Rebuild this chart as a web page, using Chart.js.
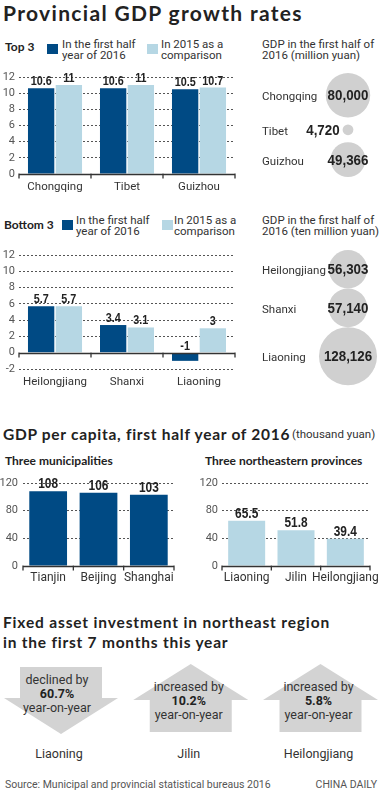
<!DOCTYPE html>
<html>
<head>
<meta charset="utf-8">
<script src="https://cdn.jsdelivr.net/npm/chart.js@4.4.1/dist/chart.umd.min.js"></script>
<style>
  body { margin: 0; background: #fff; }
  #page { position: relative; width: 388px; height: 795px; overflow: hidden; font-family: Roboto, sans-serif; color: #333; }
  #page > div, #page > canvas, #page > svg { position: absolute; }
  .t { white-space: nowrap; line-height: 16px; }
  .head { font-family: Lato, sans-serif; font-weight: 700; color: #222; white-space: nowrap; }
  .sub { font-family: Lato, sans-serif; font-weight: 700; font-size: 12px; color: #222; }
  .leg { font-size: 11.5px; line-height: 10.5px; color: #333; }
  .box { width: 11px; height: 10px; }
</style>
</head>
<body>
<div id="page">
  <div class="head fit" data-w="300" style="left:3px;top:1px;font-size:21px;line-height:24px">Provincial GDP growth rates</div>

  <div class="t sub" style="left:5px;top:39px">Top 3</div>
  <div class="box" style="left:47px;top:44px;background:#004a84"></div>
  <div class="leg" style="left:62px;top:39px">In the first half<br>year of 2016</div>
  <div class="box" style="left:147px;top:44px;background:#b6d7e4"></div>
  <div class="leg" style="left:161px;top:39px">In 2015 as a<br>comparison</div>
  <div class="leg" style="left:262px;top:39px">GDP in the first half of<br>2016 (million yuan)</div>
  <canvas id="topBars" width="245" height="140" style="left:0;top:60px"></canvas>
  <canvas id="topBubbles" width="138" height="140" style="left:250px;top:60px"></canvas>

  <div class="t sub" style="left:4px;top:217px">Bottom 3</div>
  <div class="box" style="left:62px;top:220px;background:#004a84"></div>
  <div class="leg" style="left:76px;top:215px">In the first half<br>year of 2016</div>
  <div class="box" style="left:162px;top:220px;background:#b6d7e4"></div>
  <div class="leg" style="left:174px;top:215px">In 2015 as a<br>comparison</div>
  <div class="leg" style="left:262px;top:215px">GDP in the first half of<br>2016 (ten million yuan)</div>
  <canvas id="bottomBars" width="245" height="155" style="left:0;top:235px"></canvas>
  <canvas id="bottomBubbles" width="138" height="160" style="left:250px;top:240px"></canvas>

  <div class="head fit" data-w="287" style="left:3px;top:424px;font-size:15.5px;line-height:20px">GDP per capita, first half year of 2016</div>
  <div class="t" style="left:292px;top:426px;font-size:11.5px">(thousand yuan)</div>
  <div class="t sub" style="left:5px;top:453px">Three municipalities</div>
  <div class="t sub" style="left:205px;top:453px">Three northeastern provinces</div>
  <canvas id="cityBars" width="180" height="125" style="left:0;top:465px"></canvas>
  <canvas id="northBars" width="193" height="125" style="left:195px;top:465px"></canvas>

  <div class="head fit" data-w="327" style="left:3px;top:612px;font-size:15.5px;line-height:20px">Fixed asset investment in northeast region</div>
  <div class="head fit" data-w="225" style="left:3px;top:632px;font-size:15.5px;line-height:20px">in the first 7 months this year</div>
  <svg id="arrows" width="388" height="100" style="left:0;top:660px"></svg>
  <div id="arrowText"></div>

  <div class="t" style="left:5px;top:777px;font-size:10.5px;color:#555">Source: Municipal and provincial statistical bureaus 2016</div>
  <div class="t" style="right:11px;top:777px;font-size:10.5px;color:#555">CHINA DAILY</div>
</div>
<script>
// growth rates (%)
const topProvinces = ["Chongqing", "Tibet", "Guizhou"];
const topGrowth2016 = [10.6, 10.6, 10.5];
const topGrowth2015 = [11, 11, 10.7];
const topGdp = [80000, 4720, 49366];          // million yuan

const bottomProvinces = ["Heilongjiang", "Shanxi", "Liaoning"];
const bottomGrowth2016 = [5.7, 3.4, -1];
const bottomGrowth2015 = [5.7, 3.1, 3];
const bottomGdp = [56303, 57140, 128126];     // ten million yuan

const topTicks = [0, 2, 4, 6, 8, 10, 12];
const bottomTicks = [-2, 0, 2, 4, 6, 8, 10, 12];

// GDP per capita (thousand yuan)
const municipalities = ["Tianjin", "Beijing", "Shanghai"];
const municipalValues = [108, 106, 103];
const northeast = ["Liaoning", "Jilin", "Heilongjiang"];
const northeastValues = [65.5, 51.8, 39.4];
const perCapitaTicks = [0, 40, 80, 120];

// fixed asset investment, first 7 months (% year-on-year)
const investProvinces = ["Liaoning", "Jilin", "Heilongjiang"];
const investChange = [-60.7, 10.2, 5.8];

const DARK = "#004a84";
const LIGHT = "#b6d7e4";
const GREY = "#d0d0d0";
const NUM_FONT = "'Liberation Sans', Arial, sans-serif";

// stretch the headings to the width they have in print
document.querySelectorAll(".fit").forEach(el => {
  const w = el.getBoundingClientRect().width;
  const n = el.textContent.length;
  el.style.letterSpacing = ((Number(el.dataset.w) - w) / n).toFixed(2) + "px";
});

Chart.defaults.font.family = "Roboto, sans-serif";
Chart.defaults.color = "#333";

// condensed bold number, drawn squeezed horizontally
function narrowText(ctx, txt, x, y, size, squeeze, align) {
  ctx.save();
  ctx.font = "bold " + size + "px " + NUM_FONT;
  ctx.fillStyle = "#222";
  ctx.textAlign = align || "center";
  ctx.translate(x, y);
  ctx.scale(squeeze, 1);
  ctx.fillText(txt, 0, 0);
  ctx.restore();
}

// solid zero line with small ticks between the categories
const baseline = {
  id: "baseline",
  afterDatasetsDraw(chart) {
    const { ctx, chartArea: a, scales } = chart;
    const y = Math.round(scales.y.getPixelForValue(0)) + 0.5;
    const n = chart.data.labels.length;
    ctx.save();
    ctx.strokeStyle = "#333";
    ctx.lineWidth = 1.3;
    ctx.beginPath();
    ctx.moveTo(a.left, y);
    ctx.lineTo(a.right, y);
    for (let i = 0; i <= n; i++) {
      const x = a.left + (a.right - a.left) * i / n;
      ctx.moveTo(x, y - 1);
      ctx.lineTo(x, y + 4);
    }
    ctx.stroke();
    ctx.restore();
  }
};

const valueLabels = {
  id: "valueLabels",
  afterDatasetsDraw(chart, args, opts) {
    const { ctx } = chart;
    ctx.textBaseline = "alphabetic";
    chart.data.datasets.forEach((ds, di) => {
      chart.getDatasetMeta(di).data.forEach((bar, i) => {
        narrowText(ctx, String(ds.data[i]), bar.x, Math.min(bar.y, bar.base) - 3, opts.size, opts.squeeze);
      });
    });
  }
};

function barChart(id, labels, datasets, cfg) {
  new Chart(document.getElementById(id), {
    type: "bar",
    data: { labels, datasets },
    options: {
      responsive: false,
      animation: false,
      events: [],
      layout: { padding: { top: cfg.top, right: cfg.right, left: 0, bottom: 0 } },
      datasets: { bar: { categoryPercentage: cfg.cat, barPercentage: cfg.bar } },
      plugins: { legend: { display: false }, tooltip: { enabled: false },
                 valueLabels: { size: cfg.labelSize, squeeze: cfg.squeeze } },
      scales: {
        x: {
          grid: { display: false, drawTicks: false },
          border: { display: false },
          ticks: { padding: cfg.xPad, color: "#333", font: { size: cfg.catSize }, maxRotation: 0, minRotation: 0, autoSkip: false },
          afterFit: s => { s.height = cfg.xHeight; }
        },
        y: {
          min: cfg.min,
          max: cfg.max,
          afterBuildTicks: s => { s.ticks = cfg.ticks.map(v => ({ value: v })); },
          grid: { drawTicks: false, color: c => c.tick && c.tick.value === 0 ? "rgba(0,0,0,0)" : "#555", lineWidth: 1 },
          border: { display: false, dash: [2, 2] },
          ticks: { padding: cfg.yPad, color: "#555", font: { size: 11 }, autoSkip: false },
          afterFit: s => { s.width = cfg.yWidth; }
        }
      }
    },
    plugins: [baseline, valueLabels]
  });
}

barChart("topBars", topProvinces, [
  { label: "In the first half year of 2016", data: topGrowth2016, backgroundColor: DARK },
  { label: "In 2015 as a comparison", data: topGrowth2015, backgroundColor: LIGHT }
], { top: 17, right: 10, cat: 0.77, bar: 0.95, labelSize: 13, squeeze: 0.83, xPad: 6, catSize: 11.5, xHeight: 26,
     min: 0, max: 12, ticks: topTicks, yPad: 4, yWidth: 19 });

barChart("bottomBars", bottomProvinces, [
  { label: "In the first half year of 2016", data: bottomGrowth2016, backgroundColor: DARK },
  { label: "In 2015 as a comparison", data: bottomGrowth2015, backgroundColor: LIGHT }
], { top: 20, right: 10, cat: 0.77, bar: 0.95, labelSize: 13, squeeze: 0.83, xPad: 6, catSize: 11.5, xHeight: 21,
     min: -2, max: 12, ticks: bottomTicks, yPad: 4, yWidth: 19 });

barChart("cityBars", municipalities, [
  { label: "GDP per capita", data: municipalValues, backgroundColor: DARK }
], { top: 18, right: 6, cat: 0.75, bar: 1, labelSize: 14, squeeze: 0.85, xPad: 5, catSize: 12, xHeight: 24,
     min: 0, max: 120, ticks: perCapitaTicks, yPad: 5, yWidth: 23 });

barChart("northBars", northeast, [
  { label: "GDP per capita", data: northeastValues, backgroundColor: LIGHT }
], { top: 18, right: 18, cat: 0.75, bar: 1, labelSize: 14, squeeze: 0.85, xPad: 5, catSize: 12, xHeight: 24,
     min: 0, max: 120, ticks: perCapitaTicks, yPad: 4, yWidth: 27 });

// bubbles: area proportional to GDP, stacked down the column
const bubbleLabels = {
  id: "bubbleLabels",
  afterDatasetsDraw(chart, args, opts) {
    const { ctx } = chart;
    const ds = chart.data.datasets[0];
    ctx.save();
    ctx.textBaseline = "middle";
    chart.getDatasetMeta(0).data.forEach((pt, i) => {
      const r = ds.data[i].r;
      ctx.font = "11.5px Roboto, sans-serif";
      ctx.fillStyle = "#333";
      ctx.textAlign = "left";
      ctx.fillText(opts.names[i], 12, pt.y + 2);
      const txt = ds.data[i].v.toLocaleString("en-US");
      ctx.font = "bold 14.5px " + NUM_FONT;
      const w = ctx.measureText(txt).width * 0.92;
      // small bubbles get their number beside them
      if (w > 4 * r) {
        narrowText(ctx, txt, pt.x - r - 3, pt.y + 1, 14.5, 0.92, "right");
      } else {
        narrowText(ctx, txt, pt.x, pt.y + 1, 14.5, 0.92, "center");
      }
    });
    ctx.restore();
  }
};

function bubbleChart(id, names, values, k, gap, startY) {
  const canvas = document.getElementById(id);
  const radii = values.map(v => k * Math.sqrt(v));
  const ys = [];
  radii.forEach((r, i) => {
    ys.push(i === 0 ? startY + r : ys[i - 1] + radii[i - 1] + gap + r);
  });
  new Chart(canvas, {
    type: "bubble",
    data: {
      datasets: [{
        data: values.map((v, i) => ({ x: 0.5, y: ys[i], r: radii[i], v })),
        backgroundColor: GREY,
        borderWidth: 0
      }]
    },
    options: {
      responsive: false,
      animation: false,
      events: [],
      clip: false,
      layout: { autoPadding: false, padding: { left: 60, right: 2, top: 0, bottom: 0 } },
      scales: {
        x: { display: false, min: 0, max: 1 },
        y: { display: false, min: 0, max: canvas.height, reverse: true }
      },
      plugins: { legend: { display: false }, tooltip: { enabled: false }, bubbleLabels: { names } }
    },
    plugins: [bubbleLabels]
  });
}

bubbleChart("topBubbles", topProvinces, topGdp, 0.0785, 7, 13);
bubbleChart("bottomBubbles", bottomProvinces, bottomGdp, 0.081, 0, 10);

// fixed asset investment arrows
const svg = document.getElementById("arrows");
const textBox = document.getElementById("arrowText");
let shapes = "";
let texts = "";
investChange.forEach((v, i) => {
  const cx = 61 + i * 129.75;
  const down = v < 0;
  if (down) {
    shapes += `<polygon fill="#d3d3d3" points="${cx-41},7 ${cx+41},7 ${cx+41},38 ${cx+57},38 ${cx},74 ${cx-57},38 ${cx-41},38"/>`;
  } else {
    shapes += `<polygon fill="#d3d3d3" points="${cx},4 ${cx+57.5},40 ${cx+41},40 ${cx+41},72 ${cx-41},72 ${cx-41},40 ${cx-57.5},40"/>`;
  }
  const tx = down ? cx - 4 : cx - 2;
  const ty = down ? 680 : 687;
  const word = down ? "declined by" : "increased by";
  const pct = Math.abs(v).toFixed(1) + "%";
  texts += `<div class="t" style="position:absolute;left:${tx - 50}px;width:100px;text-align:center;top:${ty - 8}px;font-size:12.5px">${word}</div>`;
  texts += `<div class="t" style="position:absolute;left:${tx - 50}px;width:100px;text-align:center;top:${ty + 14 - 8}px;font-size:12.5px;font-weight:700;color:#222">${pct}</div>`;
  texts += `<div class="t" style="position:absolute;left:${tx - 50}px;width:100px;text-align:center;top:${ty + 28 - 8}px;font-size:12.5px">year-on-year</div>`;
  texts += `<div class="t" style="position:absolute;left:${cx - 2 - 60}px;width:120px;text-align:center;top:746px;font-size:12.5px">${investProvinces[i]}</div>`;
});
svg.innerHTML = shapes;
textBox.innerHTML = texts;
</script>
</body>
</html>
